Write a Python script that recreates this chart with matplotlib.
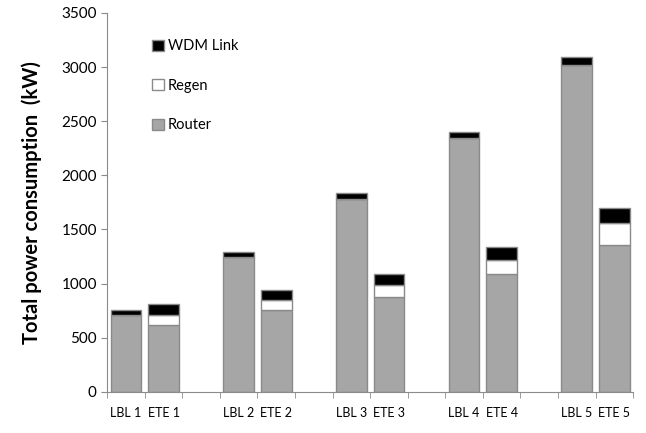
import numpy as np
import matplotlib.pyplot as plt
from matplotlib.patches import Patch

# data (kW)
labels = ["LBL 1", "ETE 1", "", "LBL 2", "ETE 2", "", "LBL 3", "ETE 3", "",
          "LBL 4", "ETE 4", "", "LBL 5", "ETE 5"]
router = [710, 615, 0, 1245, 760, 0, 1780, 875, 0, 2345, 1090, 0, 3020, 1360]
regen = [0, 95, 0, 0, 90, 0, 0, 115, 0, 0, 130, 0, 0, 200]
wdm = [50, 105, 0, 50, 90, 0, 55, 100, 0, 60, 115, 0, 75, 140]

plt.rcParams['font.family'] = ['Lato', 'DejaVu Sans']

fig = plt.figure(figsize=(6.46, 4.33), dpi=100)
ax = fig.add_axes([0.166, 0.095, 0.814, 0.875])

x = np.arange(len(labels))
router = np.array(router)
regen = np.array(regen)
wdm = np.array(wdm)
keep = np.array([l != "" for l in labels])
w = 0.82
edge = "#8a8a8a"

ax.bar(x[keep], router[keep], w, color="#a6a6a6", edgecolor=edge, linewidth=1)
ax.bar(x[keep], regen[keep], w, bottom=router[keep], color="white",
       edgecolor=edge, linewidth=1)
ax.bar(x[keep], wdm[keep], w, bottom=(router + regen)[keep], color="black",
       edgecolor=edge, linewidth=1)

ax.set_xlim(-0.5, len(labels) - 0.5)
ax.set_ylim(0, 3500)
ax.set_yticks(np.arange(0, 3501, 500))
ax.set_xticks(x)
ax.set_xticklabels(labels, fontsize=9)
ax.set_xticks(np.arange(-0.5, len(labels), 1), minor=True)
ax.tick_params(axis="x", which="major", length=0, pad=11)
ax.tick_params(axis="x", which="minor", length=4, color=edge)
ax.tick_params(axis="y", length=4, color=edge, labelsize=11)

for s in ["top", "right"]:
    ax.spines[s].set_visible(False)
for s in ["left", "bottom"]:
    ax.spines[s].set_color(edge)

ax.set_ylabel("Total power consumption  (kW)", fontsize=14.5, fontweight="bold",
              labelpad=14)

handles = [Patch(facecolor="black", edgecolor=edge),
           Patch(facecolor="white", edgecolor=edge),
           Patch(facecolor="#a6a6a6", edgecolor=edge)]
ax.legend(handles, ["WDM Link", "Regen", "Router"], loc="upper left",
          bbox_to_anchor=(0.06, 0.965), frameon=False, fontsize=10.5,
          labelspacing=1.75, handlelength=0.8, handleheight=0.8,
          handletextpad=0.3)

fig.savefig("out.png", dpi=100)
